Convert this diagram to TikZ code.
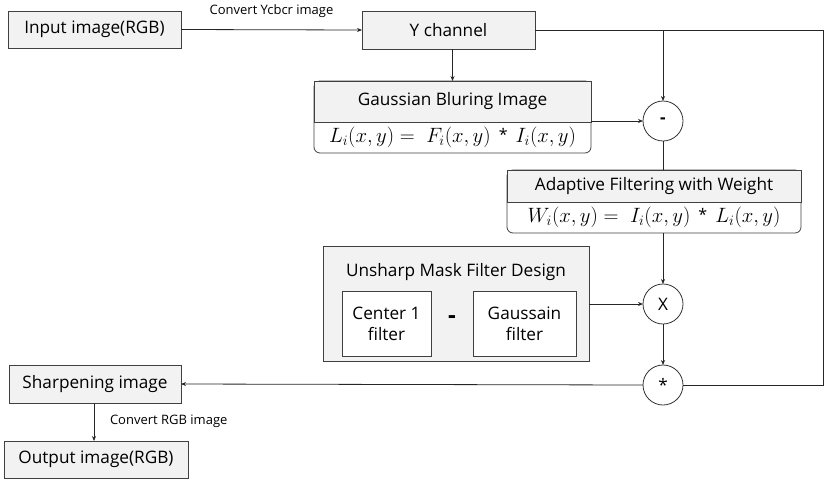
\documentclass[tikz,border=0pt]{standalone}
\usepackage{fontspec}
\setmainfont{Open Sans}
\usetikzlibrary{arrows.meta,calc}
\newcommand{\astop}{\mathbin{\,\raisebox{2pt}{\fontsize{16}{16}\selectfont*}\,}}
\begin{document}
\begin{tikzpicture}[x=1pt,y=-1pt,
  every node/.style={inner sep=0pt,outer sep=0pt,font=\fontsize{17.2}{20}\selectfont},
  gbox/.style={draw=black!75,fill=black!5,line width=0.8pt},
  wbox/.style={draw=black!75,fill=white,line width=0.8pt},
  rbox/.style={draw=black!75,fill=white,line width=0.8pt,rounded corners=6pt},
  opc/.style={circle,draw=black!80,fill=white,line width=0.8pt,minimum size=40pt},
  lbl/.style={font=\fontsize{13}{15}\selectfont},
  conn/.style={draw=black!85,line width=0.8pt},
  arr/.style={conn,-{Stealth[length=5pt,width=4pt]}},
  mathf/.style={font=\fontsize{20.5}{22}\selectfont}
]
\useasboundingbox (0,0) rectangle (827,483);

% top row
\node[gbox,minimum width=173pt,minimum height=37pt] (inp) at (94.5,29.5) {Input image(RGB)};
\node[gbox,minimum width=173pt,minimum height=38pt] (ych) at (448.5,30) {Y channel};

% Gaussian bluring block
\node[rbox,minimum width=277pt,minimum height=72pt] (gbbox) at (452.5,117) {};
\node[gbox,minimum width=277pt,minimum height=41pt,anchor=north] (gbt) at (gbbox.north) {Gaussian Bluring Image};
\node[mathf] (gbf) at ($(gbt.south)!0.5!(gbbox.south)$) {$L_i(x,y) = \;F_i(x,y) \astop I_i(x,y)$};

% Adaptive filtering block
\node[rbox,minimum width=294pt,minimum height=63pt] (adbox) at (654,201.5) {};
\node[gbox,minimum width=294pt,minimum height=32pt,anchor=north] (adt) at (adbox.north) {Adaptive Filtering with Weight};
\node[mathf] (adf) at ($(adt.south)!0.5!(adbox.south)$) {$W_i(x,y) = \;I_i(x,y) \astop L_i(x,y)$};

% Unsharp mask block
\node[gbox,minimum width=266pt,minimum height=115pt] (usm) at (456,303.5) {};
\node (usmt) at (456,272) {Unsharp Mask Filter Design};
\node[wbox,minimum width=89pt,minimum height=65pt,align=center,font=\fontsize{17.2}{21}\selectfont] (c1) at (386.5,323.5) {Center 1\\filter};
\node[wbox,minimum width=103pt,minimum height=65pt,align=center,font=\fontsize{17.2}{21}\selectfont] (gf) at (524.5,323.5) {Gaussain\\filter};
\node[font=\fontsize{24}{24}\selectfont\bfseries] (dash) at (452,320) {-};

% operator circles
\node[opc] (minus) at (663,121) {\textbf{-}};
\node[opc] (xc) at (663,304) {X};
\node[opc] (star) at (663,385) {*};

% bottom left
\node[gbox,minimum width=172pt,minimum height=38pt] (sharp) at (95,384) {Sharpening image};
\node[gbox,minimum width=184pt,minimum height=37pt] (out) at (96,459.5) {Output image(RGB)};

% coordinates
\coordinate (j1) at (663,30);
\coordinate (tr) at (823,30);
\coordinate (br) at (823,385);

% connectors
\draw[arr] (inp.east) -- node[lbl,above=12pt] (l1) {Convert Ycbcr image} (ych.west);
\draw[arr] (gbbox.north |- ych.south) -- (gbbox.north);
\draw[conn] (ych.east) -- (tr) -- (br) -- (star.east);
\draw[arr] (j1) -- (minus.north);
\draw[arr] (gbbox.east |- minus.west) -- (minus.west);
\draw[conn] (minus.south) -- (minus.south |- adbox.north);
\draw[arr] (adbox.south -| xc) -- (xc.north);
\draw[arr] (usm.east |- xc.west) -- (xc.west);
\draw[arr] (xc.south) -- (star.north);
\draw[arr] (star.west) -- (sharp.east);
\draw[arr] (sharp.south -| 94,0) -- (out.north -| 94,0);
\node[lbl,anchor=west] (l2) at (110,421) {Convert RGB image};
\end{tikzpicture}
\end{document}
